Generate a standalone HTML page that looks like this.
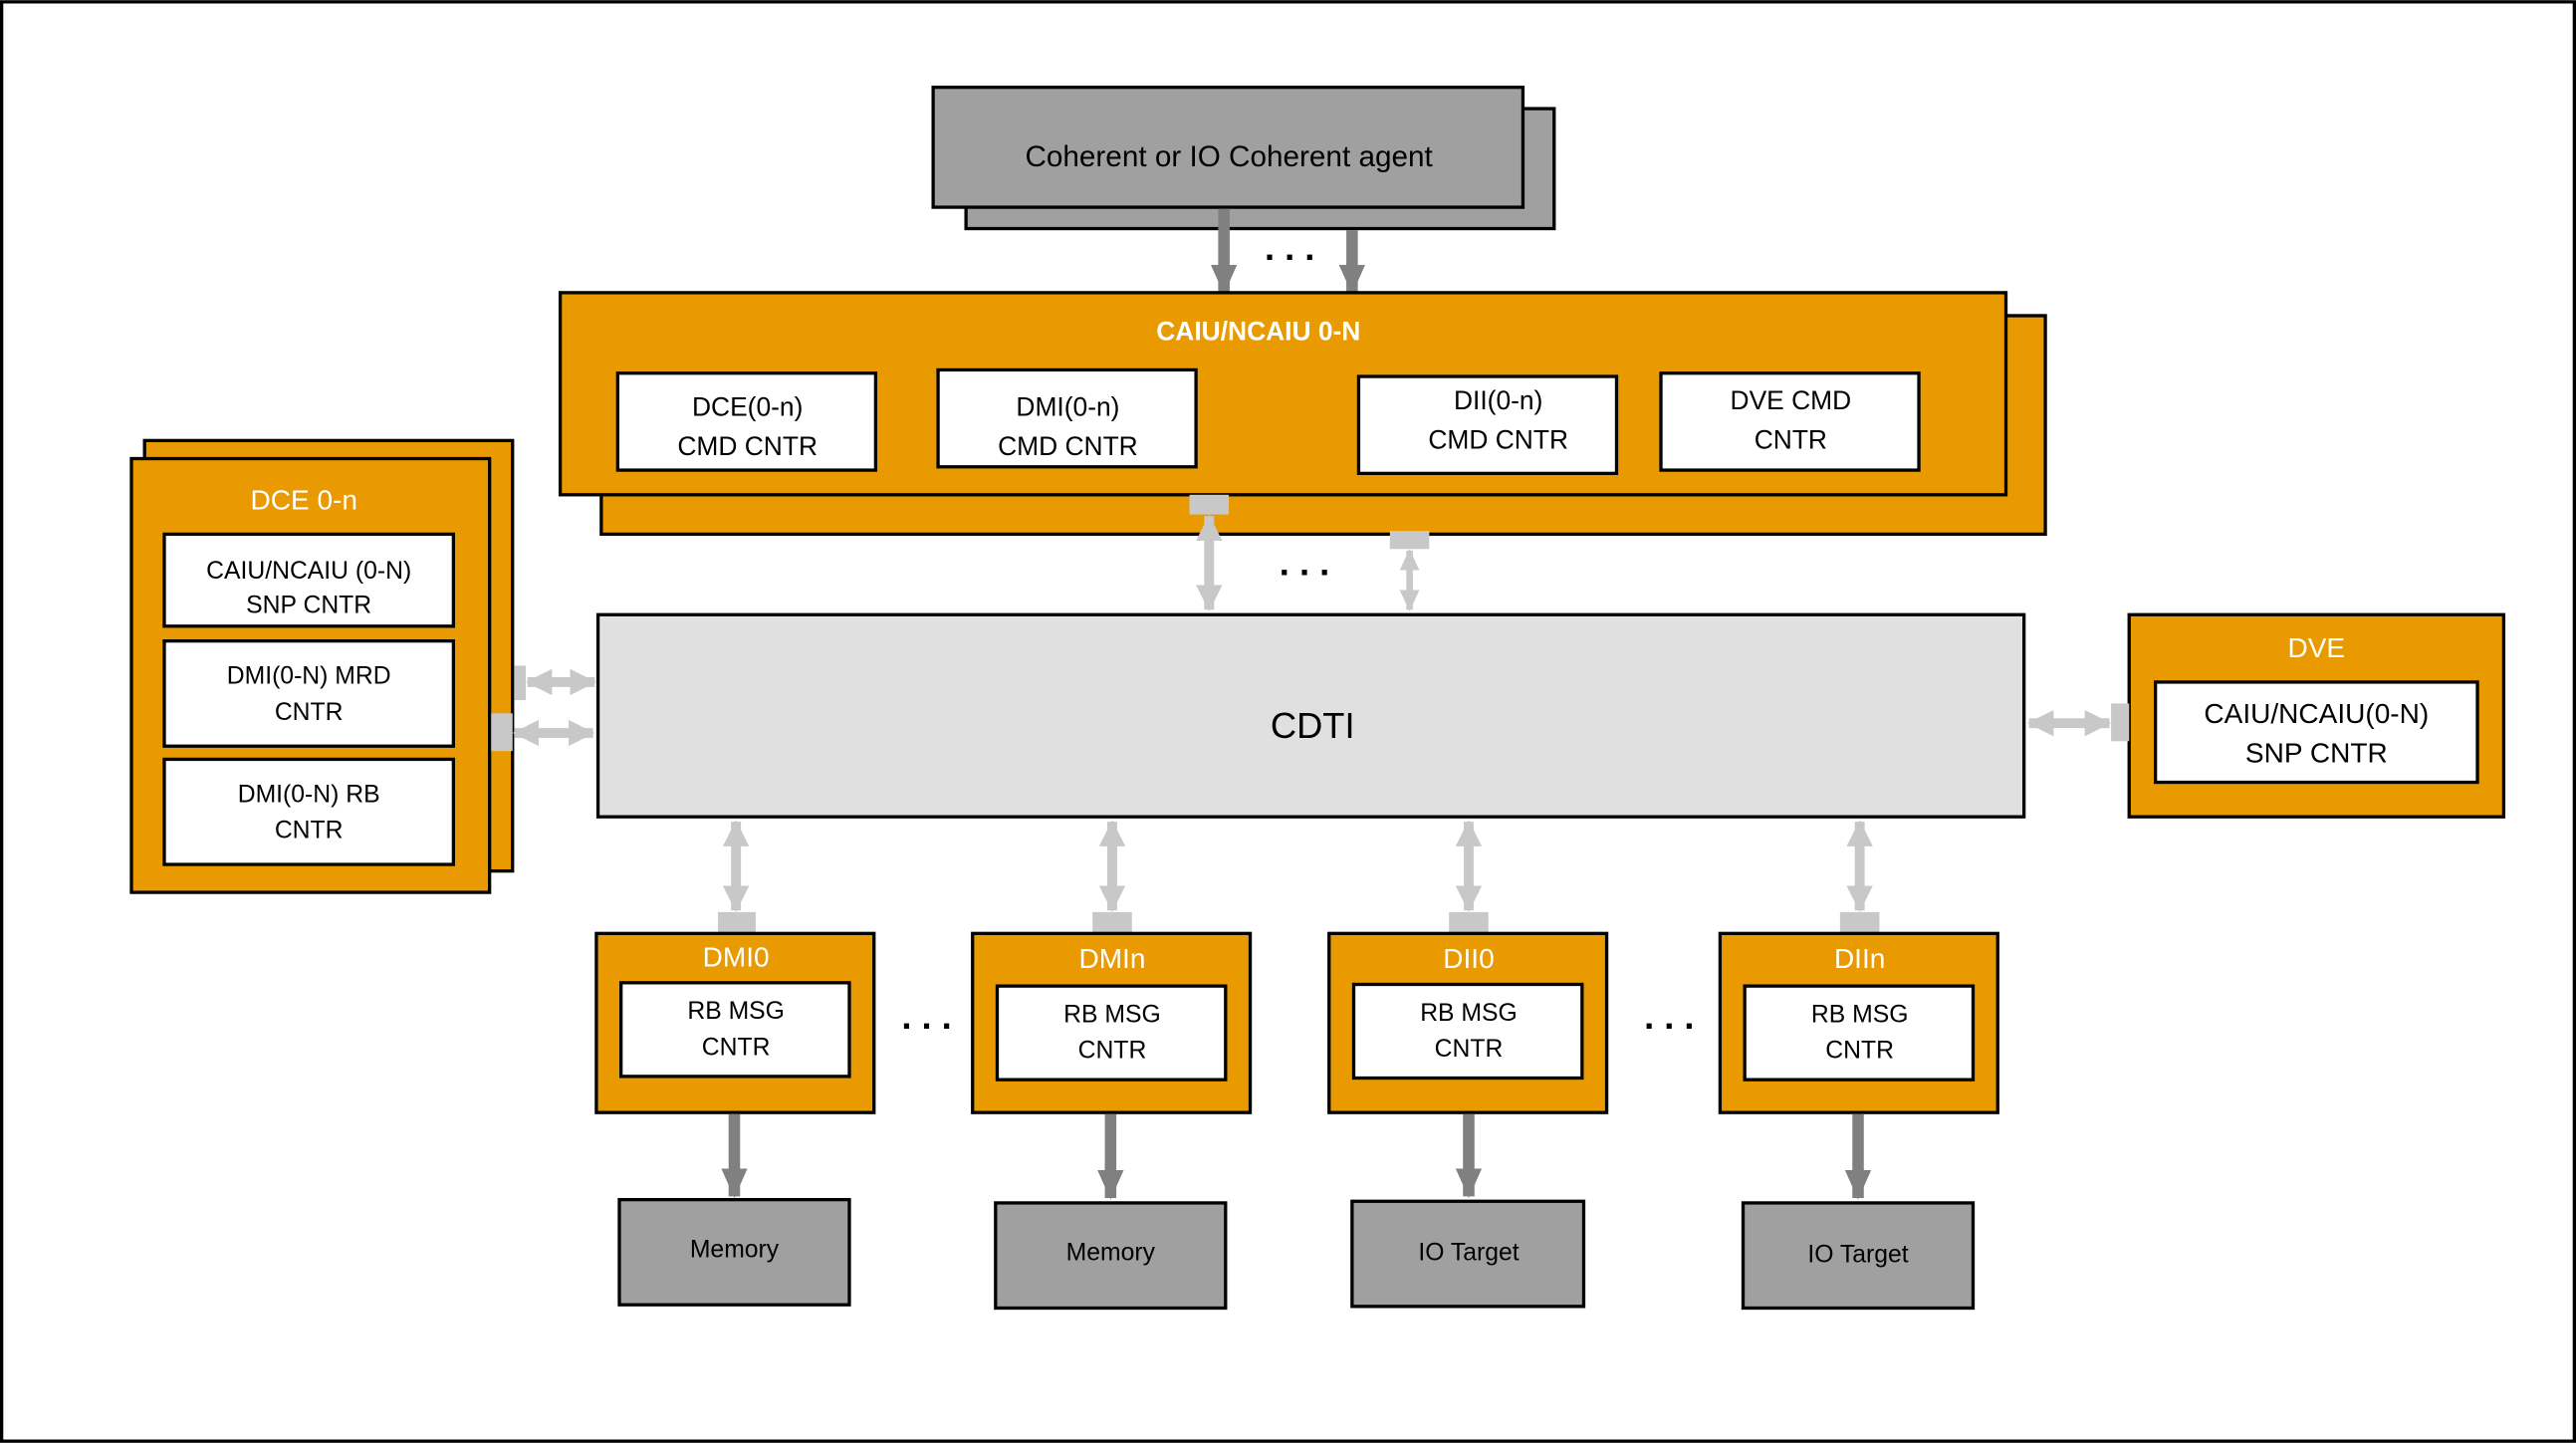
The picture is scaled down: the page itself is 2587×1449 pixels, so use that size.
<!DOCTYPE html>
<html><head><meta charset="utf-8"><style>
html,body{margin:0;padding:0;background:#fff;}
svg{display:block;}
text{font-family:"Liberation Sans","Noto Sans CJK SC",sans-serif;}
</style></head><body>
<svg width="2587" height="1449" viewBox="0 0 1568 878" xmlns="http://www.w3.org/2000/svg">
<defs>
<marker id="lg" markerUnits="userSpaceOnUse" markerWidth="20" markerHeight="20" refX="15" refY="10" orient="auto-start-reverse"><path d="M0,2 L16,10 L0,18 Z" fill="#c8c8c8"/></marker>
<marker id="lgs" markerUnits="userSpaceOnUse" markerWidth="14" markerHeight="14" refX="12" refY="7" orient="auto-start-reverse"><path d="M0,1 L13,7 L0,13 Z" fill="#c8c8c8"/></marker>
<marker id="dg" markerUnits="userSpaceOnUse" markerWidth="22" markerHeight="22" refX="17" refY="11" orient="auto"><path d="M0,3 L18,11 L0,19 Z" fill="#808080"/></marker>
</defs>
<rect x="1" y="1" width="1566" height="876" fill="#fff" stroke="#000" stroke-width="2"/>

<rect x="588" y="66" width="358" height="73" fill="#a0a0a0" stroke="#000" stroke-width="2"/>
<rect x="568" y="53" width="359" height="73" fill="#a0a0a0" stroke="#000" stroke-width="2"/>
<text x="748" y="101" font-size="18" text-anchor="middle">Coherent or IO Coherent agent</text>
<line x1="745" y1="127" x2="745" y2="178" stroke="#808080" stroke-width="7" marker-end="url(#dg)"/>
<line x1="823" y1="140" x2="823" y2="178" stroke="#808080" stroke-width="7" marker-end="url(#dg)"/>
<text x="785" y="158" font-size="22" font-weight="bold" text-anchor="middle">. . .</text>

<rect x="366" y="192" width="879" height="133" fill="#e89a00" stroke="#000" stroke-width="2"/>
<rect x="341" y="178" width="880" height="123" fill="#e89a00" stroke="#000" stroke-width="2"/>
<text x="766" y="207" font-size="16" font-weight="bold" fill="#fff" text-anchor="middle">CAIU/NCAIU 0-N</text>
<g font-size="16" text-anchor="middle">
<rect x="376" y="227" width="157" height="59" fill="#fff" stroke="#000" stroke-width="2"/>
<text x="455" y="253">DCE(0-n)</text><text x="455" y="277">CMD CNTR</text>
<rect x="571" y="225" width="157" height="59" fill="#fff" stroke="#000" stroke-width="2"/>
<text x="650" y="253">DMI(0-n)</text><text x="650" y="277">CMD CNTR</text>
<rect x="827" y="229" width="157" height="59" fill="#fff" stroke="#000" stroke-width="2"/>
<text x="912" y="249">DII(0-n)</text><text x="912" y="273">CMD CNTR</text>
<rect x="1011" y="227" width="157" height="59" fill="#fff" stroke="#000" stroke-width="2"/>
<text x="1090" y="249">DVE CMD</text><text x="1090" y="273">CNTR</text>
</g>

<rect x="724" y="301" width="24" height="12" fill="#c8c8c8"/>
<line x1="736" y1="314" x2="736" y2="371" stroke="#c8c8c8" stroke-width="6" marker-start="url(#lg)" marker-end="url(#lg)"/>
<rect x="846" y="323" width="24" height="11" fill="#c8c8c8"/>
<line x1="858" y1="335" x2="858" y2="371" stroke="#c8c8c8" stroke-width="4" marker-start="url(#lgs)" marker-end="url(#lgs)"/>
<text x="794" y="350" font-size="22" font-weight="bold" text-anchor="middle">. . .</text>

<rect x="364" y="374" width="868" height="123" fill="#e0e0e0" stroke="#000" stroke-width="2"/>
<text x="799" y="449" font-size="22" text-anchor="middle">CDTI</text>

<rect x="88" y="268" width="224" height="262" fill="#e89a00" stroke="#000" stroke-width="2"/>
<rect x="80" y="279" width="218" height="264" fill="#e89a00" stroke="#000" stroke-width="2"/>
<text x="185" y="310" font-size="17" fill="#fff" text-anchor="middle">DCE 0-n</text>
<g font-size="15" text-anchor="middle">
<rect x="100" y="325" width="176" height="56" fill="#fff" stroke="#000" stroke-width="2"/>
<text x="188" y="352">CAIU/NCAIU (0-N)</text><text x="188" y="373">SNP CNTR</text>
<rect x="100" y="390" width="176" height="64" fill="#fff" stroke="#000" stroke-width="2"/>
<text x="188" y="416">DMI(0-N) MRD</text><text x="188" y="438">CNTR</text>
<rect x="100" y="462" width="176" height="64" fill="#fff" stroke="#000" stroke-width="2"/>
<text x="188" y="488">DMI(0-N) RB</text><text x="188" y="510">CNTR</text>
</g>
<rect x="313" y="405" width="7" height="21" fill="#c8c8c8"/>
<line x1="321" y1="415" x2="362" y2="415" stroke="#c8c8c8" stroke-width="6" marker-start="url(#lg)" marker-end="url(#lg)"/>
<rect x="299" y="434" width="13" height="23" fill="#c8c8c8"/>
<line x1="313" y1="446" x2="361" y2="446" stroke="#c8c8c8" stroke-width="6" marker-start="url(#lg)" marker-end="url(#lg)"/>

<rect x="1296" y="374" width="228" height="123" fill="#e89a00" stroke="#000" stroke-width="2"/>
<text x="1410" y="400" font-size="17" fill="#fff" text-anchor="middle">DVE</text>
<rect x="1312" y="415" width="196" height="61" fill="#fff" stroke="#000" stroke-width="2"/>
<text x="1410" y="440" font-size="17" text-anchor="middle">CAIU/NCAIU(0-N)</text>
<text x="1410" y="464" font-size="17" text-anchor="middle">SNP CNTR</text>
<rect x="1285" y="428" width="11" height="23" fill="#c8c8c8"/>
<line x1="1235" y1="440" x2="1284" y2="440" stroke="#c8c8c8" stroke-width="6" marker-start="url(#lg)" marker-end="url(#lg)"/>

<g font-size="15" text-anchor="middle">
<line x1="448" y1="500" x2="448" y2="554" stroke="#c8c8c8" stroke-width="6" marker-start="url(#lg)" marker-end="url(#lg)"/>
<rect x="437" y="555" width="23" height="13" fill="#c8c8c8"/>
<rect x="363" y="568" width="169" height="109" fill="#e89a00" stroke="#000" stroke-width="2"/>
<text x="448" y="588" font-size="17" fill="#fff">DMI0</text>
<rect x="378" y="598" width="139" height="57" fill="#fff" stroke="#000" stroke-width="2"/>
<text x="448" y="620">RB MSG</text><text x="448" y="642">CNTR</text>
<line x1="447" y1="678" x2="447" y2="728" stroke="#808080" stroke-width="7" marker-end="url(#dg)"/>
<rect x="377" y="730" width="140" height="64" fill="#a0a0a0" stroke="#000" stroke-width="2"/>
<text x="447" y="765">Memory</text>

<line x1="677" y1="500" x2="677" y2="554" stroke="#c8c8c8" stroke-width="6" marker-start="url(#lg)" marker-end="url(#lg)"/>
<rect x="665" y="555" width="24" height="13" fill="#c8c8c8"/>
<rect x="592" y="568" width="169" height="109" fill="#e89a00" stroke="#000" stroke-width="2"/>
<text x="677" y="589" font-size="17" fill="#fff">DMIn</text>
<rect x="607" y="600" width="139" height="57" fill="#fff" stroke="#000" stroke-width="2"/>
<text x="677" y="622">RB MSG</text><text x="677" y="644">CNTR</text>
<line x1="676" y1="678" x2="676" y2="729" stroke="#808080" stroke-width="7" marker-end="url(#dg)"/>
<rect x="606" y="732" width="140" height="64" fill="#a0a0a0" stroke="#000" stroke-width="2"/>
<text x="676" y="767">Memory</text>

<line x1="894" y1="500" x2="894" y2="554" stroke="#c8c8c8" stroke-width="6" marker-start="url(#lg)" marker-end="url(#lg)"/>
<rect x="882" y="555" width="24" height="13" fill="#c8c8c8"/>
<rect x="809" y="568" width="169" height="109" fill="#e89a00" stroke="#000" stroke-width="2"/>
<text x="894" y="589" font-size="17" fill="#fff">DII0</text>
<rect x="824" y="599" width="139" height="57" fill="#fff" stroke="#000" stroke-width="2"/>
<text x="894" y="621">RB MSG</text><text x="894" y="643">CNTR</text>
<line x1="894" y1="678" x2="894" y2="728" stroke="#808080" stroke-width="7" marker-end="url(#dg)"/>
<rect x="823" y="731" width="141" height="64" fill="#a0a0a0" stroke="#000" stroke-width="2"/>
<text x="894" y="767">IO Target</text>

<line x1="1132" y1="500" x2="1132" y2="554" stroke="#c8c8c8" stroke-width="6" marker-start="url(#lg)" marker-end="url(#lg)"/>
<rect x="1120" y="555" width="24" height="13" fill="#c8c8c8"/>
<rect x="1047" y="568" width="169" height="109" fill="#e89a00" stroke="#000" stroke-width="2"/>
<text x="1132" y="589" font-size="17" fill="#fff">DIIn</text>
<rect x="1062" y="600" width="139" height="57" fill="#fff" stroke="#000" stroke-width="2"/>
<text x="1132" y="622">RB MSG</text><text x="1132" y="644">CNTR</text>
<line x1="1131" y1="678" x2="1131" y2="729" stroke="#808080" stroke-width="7" marker-end="url(#dg)"/>
<rect x="1061" y="732" width="140" height="64" fill="#a0a0a0" stroke="#000" stroke-width="2"/>
<text x="1131" y="768">IO Target</text>
</g>
<text x="564" y="626" font-size="22" font-weight="bold" text-anchor="middle">. . .</text>
<text x="1016" y="626" font-size="22" font-weight="bold" text-anchor="middle">. . .</text>
</svg>
</body></html>
